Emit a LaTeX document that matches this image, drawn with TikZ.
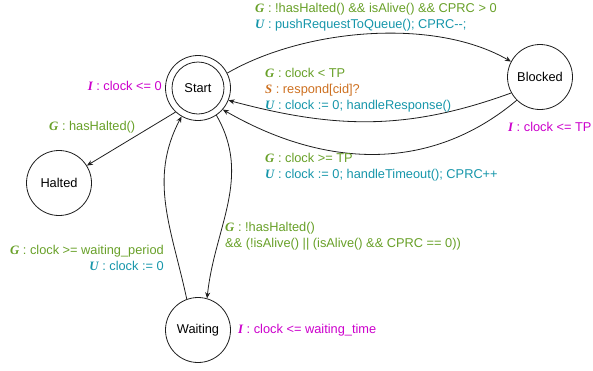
\documentclass[tikz,border=0pt]{standalone}
\usepackage{fontspec}
\setmainfont{Liberation Sans}
\newfontfamily\tagfont{Liberation Serif}
\usetikzlibrary{arrows.meta}
\definecolor{gcol}{RGB}{104,160,40}
\definecolor{ucol}{RGB}{22,150,170}
\definecolor{scol}{RGB}{205,112,32}
\definecolor{icol}{RGB}{204,0,204}
\definecolor{linecol}{RGB}{30,30,30}
\newcommand{\tg}[1]{{\tagfont\bfseries\itshape #1}}
\begin{document}
\begin{tikzpicture}[x=1pt,y=-1pt,
  font=\fontsize{12.8}{16}\selectfont,
  statebox/.style={circle,draw=linecol,line width=0.8pt,minimum size=65pt,inner sep=0pt},
  lbl/.style={inner sep=0pt,align=left},
  trans/.style={draw=linecol,line width=0.8pt,-{Stealth[length=6pt,width=5pt]}}]
\useasboundingbox (0,0) rectangle (593,370);

% states
\node[statebox] (start)   at (198,88)  {};
\node[circle,draw=linecol,line width=0.8pt,minimum size=52pt,inner sep=0pt] (startin) at (start.center) {Start};
\node[statebox] (blocked) at (540,77)  {Blocked};
\node[statebox] (halted)  at (59,183)  {Halted};
\node[statebox] (waiting) at (198,330) {Waiting};

% transitions
\draw[trans] (start.27) to[out=30,in=150,looseness=0.8] (blocked.152);
\draw[trans] (blocked.209) to[out=200,in=-15] (start.-22);
\draw[trans] (blocked.225) to[out=220,in=-30] (start.-41);
\draw[trans] (start.227) -- (halted.32);
\draw[trans] (start.-56) to[out=-60,in=84] (waiting.74);
\draw[trans] (waiting.110) to[out=102,in=-118] (start.-120);

% labels
\node[lbl,anchor=west] (l1) at (255,17)
  {\textcolor{gcol}{\tg{G} : !hasHalted() \&\& isAlive() \&\& CPRC > 0}\\
   \textcolor{ucol}{\tg{U} : pushRequestToQueue(); CPRC-{}-;}};
\node[lbl,anchor=east] (l2) at (162,86)
  {\textcolor{icol}{\tg{I} : clock <= 0}};
\node[lbl,anchor=west] (l3) at (49,127)
  {\textcolor{gcol}{\tg{G} : hasHalted()}};
\node[lbl,anchor=west] (l4) at (265,90)
  {\textcolor{gcol}{\tg{G} : clock < TP}\\
   \textcolor{scol}{\tg{S} : respond[cid]?}\\
   \textcolor{ucol}{\tg{U} : clock := 0; handleResponse()}};
\node[lbl,anchor=west] (l5) at (508,127)
  {\textcolor{icol}{\tg{I} : clock <= TP}};
\node[lbl,anchor=west] (l6) at (265,167.5)
  {\textcolor{gcol}{\tg{G} : clock >= TP}\\
   \textcolor{ucol}{\tg{U} : clock := 0; handleTimeout(); CPRC++}};
\node[lbl,anchor=west] (l7) at (225,236.5)
  {\textcolor{gcol}{\tg{G} : !hasHalted()}\\
   \textcolor{gcol}{\&\& (!isAlive() || (isAlive() \&\& CPRC == 0))}};
\node[lbl,anchor=east,align=right] (l8) at (164,257.5)
  {\textcolor{gcol}{\tg{G} : clock >= waiting\_period}\\
   \textcolor{ucol}{\tg{U} : clock := 0}};
\node[lbl,anchor=west] (l9) at (238,330)
  {\textcolor{icol}{\tg{I} : clock <= waiting\_time}};
\end{tikzpicture}
\end{document}
